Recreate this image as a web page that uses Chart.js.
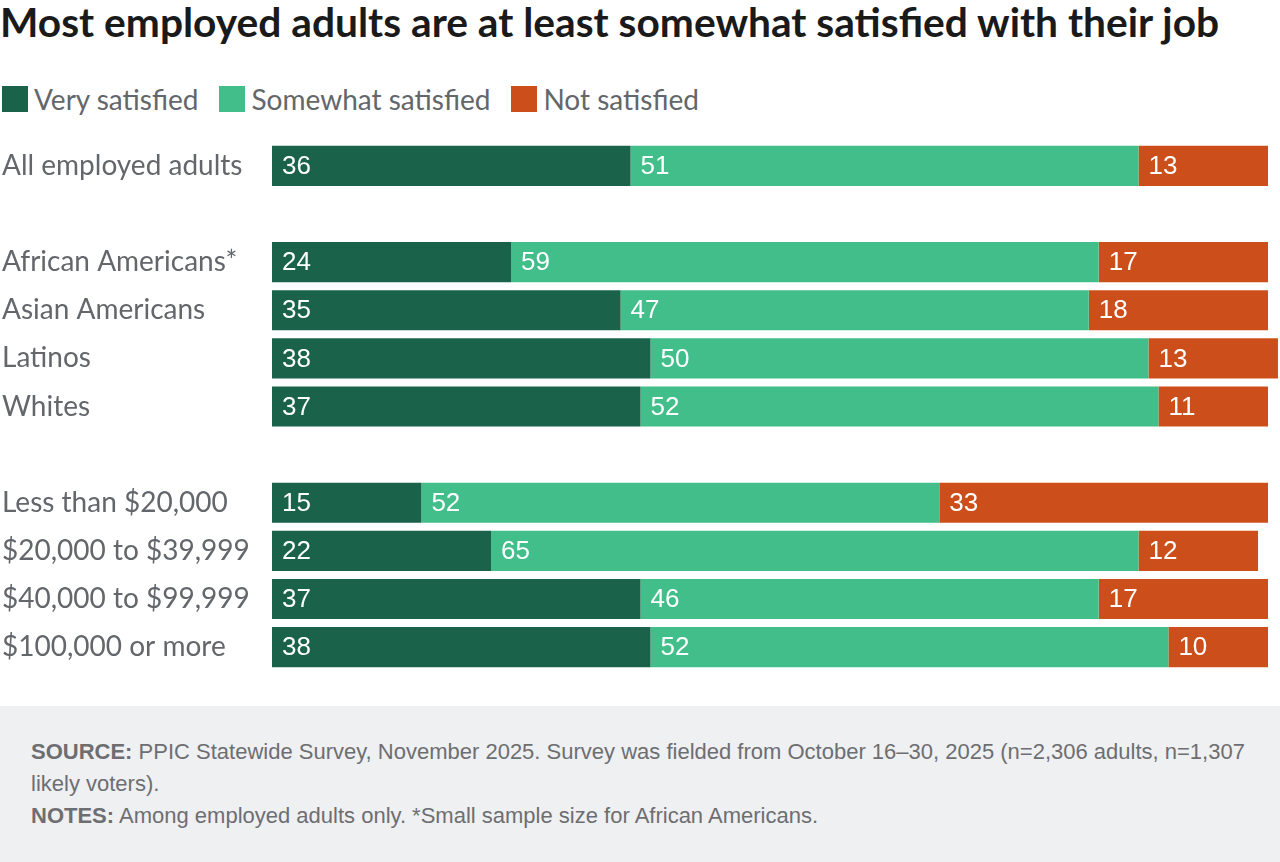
<!DOCTYPE html>
<html>
<head>
<meta charset="utf-8">
<script src="https://cdn.jsdelivr.net/npm/chart.js@4"></script>
<style>
  html, body { margin: 0; padding: 0; background: #fff; }
  body { width: 1280px; height: 862px; position: relative; overflow: hidden; font-family: Lato, sans-serif; }
  #title { position: absolute; left: 0; top: 2px; font-size: 40.7px; line-height: 40px; font-weight: 700; color: #1a1a1a; white-space: nowrap; }
  #legend { position: absolute; left: 2px; top: 85px; display: flex; height: 28px; }
  .item { display: flex; align-items: center; margin-right: 21px; font-size: 28px; line-height: 28px; color: #63666a; }
  .box { width: 26px; height: 26px; margin-right: 6px; }
  #wrap { position: absolute; left: 0; top: 125px; width: 1280px; height: 563px; }
  #foot { position: absolute; left: 0; top: 706px; width: 1280px; height: 156px; background: #eff0f2; box-sizing: border-box; padding: 30px 31px 0 31px; font-family: "Liberation Sans", Arial, sans-serif; font-size: 22px; line-height: 32px; color: #6d6e71; }
  #foot b { font-weight: 700; }
</style>
</head>
<body>
<div id="title">Most employed adults are at least somewhat satisfied with their job</div>
<div id="legend"></div>
<div id="wrap"><canvas id="c"></canvas></div>
<div id="foot">
  <div><b>SOURCE:</b> PPIC Statewide Survey, November 2025. Survey was fielded from October 16–30, 2025 (n=2,306 adults, n=1,307 likely voters).</div>
  <div><b>NOTES:</b> Among employed adults only. *Small sample size for African Americans.</div>
</div>
<script>
// rows, blank strings are the gaps between groups
const categories = [
  "All employed adults", "",
  "African Americans*", "Asian Americans", "Latinos", "Whites", "",
  "Less than $20,000", "$20,000 to $39,999", "$40,000 to $99,999", "$100,000 or more"
];
const verySatisfied     = [36, null, 24, 35, 38, 37, null, 15, 22, 37, 38];
const somewhatSatisfied = [51, null, 59, 47, 50, 52, null, 52, 65, 46, 52];
const notSatisfied      = [13, null, 17, 18, 13, 11, null, 33, 12, 17, 10];

const seriesNames = ["Very satisfied", "Somewhat satisfied", "Not satisfied"];
const seriesColors = ["#1a634a", "#42be8a", "#cc4f1b"];

// legend in html
const legend = document.getElementById("legend");
seriesNames.forEach(function (name, i) {
  const el = document.createElement("div");
  el.className = "item";
  el.innerHTML = '<span class="box" style="background:' + seriesColors[i] + '"></span>' + name;
  legend.appendChild(el);
});

// white numbers at the start of each segment
const barLabels = {
  id: "barLabels",
  afterDatasetsDraw(chart) {
    const ctx = chart.ctx;
    ctx.save();
    ctx.font = '26px "Liberation Sans", Arial, sans-serif';
    ctx.fillStyle = "#ffffff";
    ctx.textAlign = "left";
    ctx.textBaseline = "middle";
    chart.data.datasets.forEach(function (ds, i) {
      const meta = chart.getDatasetMeta(i);
      meta.data.forEach(function (bar, j) {
        const v = ds.data[j];
        if (v == null) return;
        ctx.fillText(String(v), Math.min(bar.base, bar.x) + 10, bar.y + 1);
      });
    });
    ctx.restore();
  }
};

const data = [verySatisfied, somewhatSatisfied, notSatisfied];

new Chart(document.getElementById("c"), {
  type: "bar",
  data: {
    labels: categories,
    datasets: seriesNames.map(function (name, i) {
      return {
        label: name,
        data: data[i],
        backgroundColor: seriesColors[i],
        borderWidth: 0,
        barPercentage: 40 / 48,
        categoryPercentage: 1,
        clip: false
      };
    })
  },
  options: {
    indexAxis: "y",
    responsive: true,
    maintainAspectRatio: false,
    animation: false,
    layout: { padding: { left: 2, right: 12, top: 0, bottom: 0 } },
    plugins: { legend: { display: false }, tooltip: { enabled: false } },
    scales: {
      x: { stacked: true, min: 0, max: 100, display: false },
      y: {
        stacked: true,
        grid: { display: false },
        border: { display: false },
        ticks: {
          crossAlign: "far",
          color: "#63666a",
          font: { family: "Lato", size: 28 },
          padding: 0
        },
        afterFit: function (scale) { scale.width = 270; }
      }
    }
  },
  plugins: [barLabels]
});
</script>
</body>
</html>
